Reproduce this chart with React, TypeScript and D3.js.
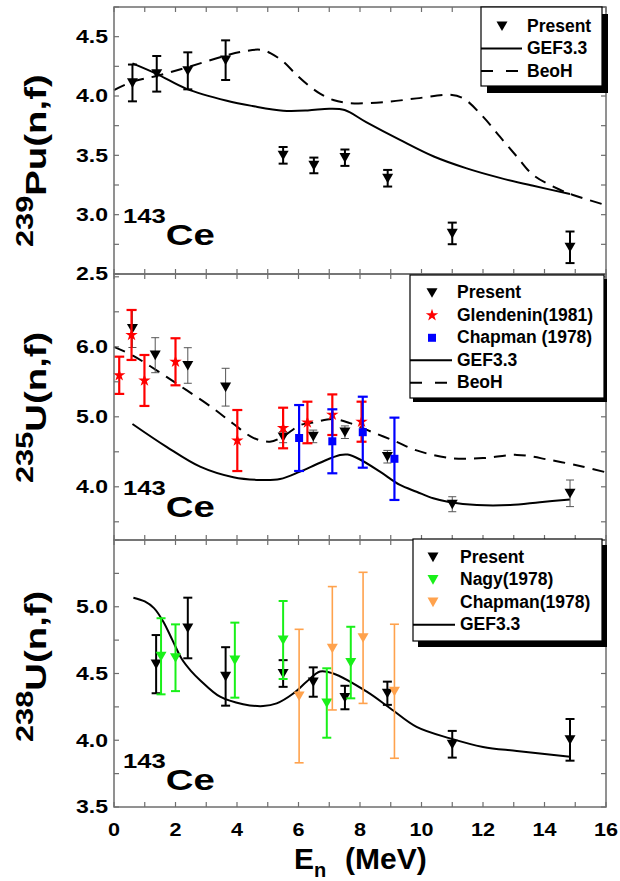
import React from "react";
import * as d3 from "d3";

const WIDTH = 620;
const HEIGHT = 881;
const PLOT_LEFT = 114;
const PLOT_RIGHT = 606;

const energyTicks = [0, 2, 4, 6, 8, 10, 12, 14, 16];

// 239Pu(n,f) -> 143Ce : [E (MeV), yield (%), uncertainty]
const puPresent: [number, number, number][] = [
  [0.6, 4.11, 0.155], [1.39, 4.187, 0.15], [2.4, 4.212, 0.156], [3.63, 4.302, 0.167],
  [5.5, 3.5, 0.07], [6.5, 3.415, 0.066], [7.51, 3.48, 0.069], [8.9, 3.307, 0.07],
  [11.0, 2.842, 0.091], [14.83, 2.725, 0.133],
];
const puGef: [number, number][] = [
  [0.6, 4.275], [1.4, 4.185], [2.36, 4.06], [3.67, 3.96], [4.5, 3.916], [5.5, 3.876],
  [6.3, 3.878], [7.0, 3.893], [7.5, 3.882], [8.2, 3.78], [9.3, 3.63],
  [10.4, 3.49], [11.47, 3.39], [12.55, 3.31], [13.6, 3.245], [14.83, 3.175],
];
const puBeoh: [number, number][] = [
  [0, 4.05], [0.6, 4.12], [1.4, 4.17], [2.36, 4.24], [3.63, 4.34], [4.2, 4.375],
  [4.75, 4.39], [5.1, 4.36], [5.5, 4.29], [5.93, 4.18], [6.37, 4.08], [6.7, 4.02],
  [7.13, 3.966], [7.67, 3.94], [8.75, 3.947], [9.84, 3.98], [10.93, 4.01], [11.36, 3.98],
  [12.0, 3.826], [12.55, 3.657], [13.1, 3.49], [13.63, 3.335], [14.5, 3.21], [14.93, 3.166],
  [16, 3.08],
];

// 235U(n,f) -> 143Ce
const u235Present: [number, number, number][] = [
  [0.6, 6.26, 0.27], [1.34, 5.88, 0.25], [2.4, 5.733, 0.254], [3.63, 5.423, 0.27],
  [5.5, 4.71, 0.08], [6.48, 4.72, 0.09], [7.51, 4.78, 0.09], [8.89, 4.43, 0.09],
  [11.0, 3.751, 0.107], [14.83, 3.907, 0.19],
];
const u235Glendenin: [number, number, number][] = [
  [0.17, 5.593, 0.266], [0.57, 6.169, 0.357], [0.99, 5.519, 0.364], [2.0, 5.786, 0.336],
  [4.01, 4.661, 0.436], [5.5, 4.84, 0.29], [6.29, 4.919, 0.297], [7.1, 5.03, 0.29],
  [8.05, 4.93, 0.286],
];
const u235Chapman: [number, number, number][] = [
  [6.02, 4.697, 0.471], [7.1, 4.65, 0.457], [8.09, 4.78, 0.507], [9.12, 4.4, 0.588],
];
const u235Gef: [number, number][] = [
  [0.6, 4.897], [1.71, 4.57], [2.8, 4.287], [3.88, 4.136], [4.75, 4.097], [5.4, 4.11],
  [6.05, 4.216], [6.7, 4.344], [7.35, 4.454], [7.6, 4.46], [8.0, 4.39], [8.65, 4.216],
  [9.3, 4.026], [9.84, 3.93], [10.38, 3.836], [10.93, 3.78], [11.8, 3.74], [12.88, 3.74],
  [13.85, 3.78], [14.83, 3.82],
];
const u235Beoh: [number, number][] = [
  [0, 6.0], [0.63, 5.87], [1.71, 5.57], [2.36, 5.38], [3.23, 5.12], [3.88, 4.9],
  [4.53, 4.7], [5.07, 4.645], [5.5, 4.72], [6.05, 4.88], [6.5, 4.92], [7.1, 4.97],
  [7.67, 4.91], [8.35, 4.79], [9.15, 4.65], [9.84, 4.52], [10.93, 4.41], [12.0, 4.41],
  [13.1, 4.456], [14.18, 4.383], [15.26, 4.287], [16, 4.207],
];

// 238U(n,f) -> 143Ce
const u238Present: [number, number, number][] = [
  [1.37, 4.57, 0.218], [2.4, 4.841, 0.227], [3.63, 4.478, 0.219], [5.5, 4.5, 0.1],
  [6.48, 4.436, 0.11], [7.51, 4.32, 0.088], [8.89, 4.352, 0.087], [11.0, 3.97, 0.1],
  [14.83, 4.003, 0.156],
];
const u238Nagy: [number, number, number][] = [
  [1.53, 4.629, 0.285], [2.0, 4.618, 0.25], [3.93, 4.6, 0.281], [5.5, 4.751, 0.292],
  [6.92, 4.279, 0.26], [7.7, 4.582, 0.268],
];
const u238Chapman: [number, number, number][] = [
  [6.02, 4.331, 0.5], [7.1, 4.689, 0.462], [8.1, 4.767, 0.491], [9.12, 4.367, 0.502],
];
const u238Gef: [number, number][] = [
  [0.63, 5.068], [1.0, 5.04], [1.3, 4.99], [1.6, 4.89], [1.9, 4.75], [2.2, 4.61],
  [2.5, 4.52], [2.8, 4.45], [3.45, 4.326], [4.2, 4.27], [4.85, 4.256], [5.29, 4.276],
  [5.83, 4.35], [6.27, 4.44], [6.7, 4.515], [7.13, 4.5], [8.22, 4.364], [8.98, 4.24],
  [9.84, 4.1], [10.93, 4.014], [12.0, 3.95], [13.1, 3.92], [14.83, 3.877],
];

const puTicks = [2.5, 3.0, 3.5, 4.0, 4.5];
const u235Ticks = [4.0, 5.0, 6.0];
const u238Ticks = [3.5, 4.0, 4.5, 5.0];

const FRAME = "#6e6e6e";
const FONT = "'Liberation Sans', Arial, sans-serif";
const STRETCH = 1.28;

type Marker = "tri" | "star" | "square";
interface Series {
  data: [number, number, number][];
  color: string;
  barColor: string;
  barWidth: number;
  cap: number;
  marker: Marker;
}
interface LegendRow {
  label: string;
  kind: Marker | "solid" | "dash";
  color: string;
}
interface PanelDef {
  top: number;
  bottom: number;
  domain: [number, number];
  ticks: number[];
  minorStep: number;
  minorStart: number;
  titleMain: string;
  titleSup: string;
  titleStart: number;
  nuclideBase: number;
  gef: [number, number][];
  beoh?: [number, number][];
  series: Series[];
  legend: {
    x: number; y: number; w: number; h: number; sdx: number; sdy: number;
    symX: number; textX: number; line0: number; line1: number; row0: number;
    rows: LegendRow[];
  };
}

function markerPath(kind: Marker): string {
  if (kind === "tri") return "M-5.5,-4.6L5.5,-4.6L0,5Z";
  if (kind === "square") return "M-4,-4H4V4H-4Z";
  return d3.symbol(d3.symbolStar, 48)() as string;
}

function Panel({ p, x }: { p: PanelDef; x: d3.ScaleLinear<number, number> }) {
  const y = d3.scaleLinear().domain(p.domain).range([p.bottom, p.top]);
  const line = d3
    .line<[number, number]>()
    .x((d) => x(d[0]))
    .y((d) => y(d[1]))
    .curve(d3.curveCatmullRom.alpha(0.5));
  const minor = d3.range(p.minorStart, p.domain[1] + 1e-9, p.minorStep);
  const xMinor = d3.range(0, 17, 1);
  const L = p.legend;
  const TL = 5;
  return (
    <g>
      <path d={line(p.gef) || ""} fill="none" stroke="#000" strokeWidth={2} />
      {p.beoh && (
        <path d={line(p.beoh) || ""} fill="none" stroke="#000" strokeWidth={2} strokeDasharray="12,8" />
      )}
      {p.series.map((s, si) => (
        <g key={si}>
          {s.data.map((d, i) => {
            const cx = x(d[0]);
            const y0 = y(d[1] + d[2]);
            const y1 = y(d[1] - d[2]);
            return (
              <g key={i}>
                <line x1={cx} x2={cx} y1={y0} y2={y1} stroke={s.barColor} strokeWidth={s.barWidth} />
                <line x1={cx - s.cap / 2} x2={cx + s.cap / 2} y1={y0} y2={y0} stroke={s.barColor} strokeWidth={s.barWidth} />
                <line x1={cx - s.cap / 2} x2={cx + s.cap / 2} y1={y1} y2={y1} stroke={s.barColor} strokeWidth={s.barWidth} />
                <path d={markerPath(s.marker)} transform={`translate(${cx},${y(d[1])})`} fill={s.color} />
              </g>
            );
          })}
        </g>
      ))}
      {/* frame and inward ticks */}
      <rect x={PLOT_LEFT} y={p.top} width={PLOT_RIGHT - PLOT_LEFT} height={p.bottom - p.top} fill="none" stroke={FRAME} strokeWidth={1.5} />
      {minor.map((v) => (
        <g key={"y" + v} stroke={FRAME} strokeWidth={1.2}>
          <line x1={PLOT_LEFT} x2={PLOT_LEFT + TL} y1={y(v)} y2={y(v)} />
          <line x1={PLOT_RIGHT} x2={PLOT_RIGHT - TL} y1={y(v)} y2={y(v)} />
        </g>
      ))}
      {xMinor.map((v) => (
        <g key={"x" + v} stroke={FRAME} strokeWidth={1.2}>
          <line x1={x(v)} x2={x(v)} y1={p.top} y2={p.top + TL} />
          <line x1={x(v)} x2={x(v)} y1={p.bottom} y2={p.bottom - TL} />
        </g>
      ))}
      {p.ticks.map((v) => (
        <text
          key={"t" + v}
          transform={`translate(108,${y(v)}) scale(${STRETCH},1)`}
          dy="0.36em"
          textAnchor="end"
          fontFamily={FONT}
          fontWeight="bold"
          fontSize={18}
        >
          {d3.format(".1f")(v)}
        </text>
      ))}
      {/* y-axis title */}
      <text
        transform={`translate(46,${p.titleStart}) rotate(-90) scale(${STRETCH},1)`}
        fontFamily={FONT}
        fontWeight="bold"
      >
        <tspan fontSize={24} dy={-13}>{p.titleSup}</tspan>
        <tspan fontSize={30} dy={13}>{p.titleMain}</tspan>
      </text>
      {/* nuclide label */}
      <text transform={`translate(123,${p.nuclideBase}) scale(${STRETCH},1)`} fontFamily={FONT} fontWeight="bold">
        <tspan fontSize={20} dy={-22}>143</tspan>
        <tspan fontSize={30} dy={22}>Ce</tspan>
      </text>
      {/* legend */}
      <rect x={L.x + L.sdx} y={L.y + L.sdy} width={L.w} height={L.h} fill="#000" />
      <rect x={L.x} y={L.y} width={L.w} height={L.h} fill="#fff" stroke="#000" strokeWidth={1.2} />
      {L.rows.map((r, i) => {
        const base = L.row0 + i * 22.5;
        const cy = base - 5.5;
        return (
          <g key={r.label}>
            {r.kind === "solid" && <line x1={L.line0} x2={L.line1} y1={cy} y2={cy} stroke="#000" strokeWidth={2} />}
            {r.kind === "dash" && (
              <line x1={L.line0} x2={L.line1} y1={cy} y2={cy} stroke="#000" strokeWidth={2} strokeDasharray="12,13" />
            )}
            {(r.kind === "tri" || r.kind === "star" || r.kind === "square") && (
              <path d={markerPath(r.kind)} transform={`translate(${L.symX},${cy})`} fill={r.color} />
            )}
            <text x={L.textX} y={base} fontFamily={FONT} fontWeight="bold" fontSize={17.5}>
              {r.label}
            </text>
          </g>
        );
      })}
    </g>
  );
}

export default function App() {
  const x = d3.scaleLinear().domain([0, 16]).range([PLOT_LEFT, PLOT_RIGHT]);

  const black: Omit<Series, "data"> = { color: "#000", barColor: "#000", barWidth: 2, cap: 9, marker: "tri" };

  const panels: PanelDef[] = [
    {
      top: 7, bottom: 274, domain: [2.5, 4.75], ticks: puTicks, minorStep: 0.25, minorStart: 2.5,
      titleSup: "239", titleMain: "Pu(n,f)", titleStart: 247, nuclideBase: 245,
      gef: puGef, beoh: puBeoh,
      series: [{ ...black, data: puPresent }],
      legend: {
        x: 481, y: 7, w: 121, h: 79, sdx: 6, sdy: 7, symX: 502, textX: 527, line0: 481, line1: 522, row0: 31.5,
        rows: [
          { label: "Present", kind: "tri", color: "#000" },
          { label: "GEF3.3", kind: "solid", color: "#000" },
          { label: "BeoH", kind: "dash", color: "#000" },
        ],
      },
    },
    {
      top: 274, bottom: 540, domain: [3.24, 7.04], ticks: u235Ticks, minorStep: 0.5, minorStart: 3.5,
      titleSup: "235", titleMain: "U(n,f)", titleStart: 483, nuclideBase: 517,
      gef: u235Gef, beoh: u235Beoh,
      series: [
        { ...black, data: u235Present, barColor: "#555", barWidth: 1, cap: 8 },
        { data: u235Glendenin, color: "#ff0000", barColor: "#ff0000", barWidth: 2.2, cap: 10, marker: "star" },
        { data: u235Chapman, color: "#0000ff", barColor: "#0000ff", barWidth: 2.2, cap: 10, marker: "square" },
      ],
      legend: {
        x: 410, y: 275, w: 194, h: 123, sdx: 3, sdy: 4, symX: 432, textX: 457, line0: 410, line1: 452, row0: 298.3,
        rows: [
          { label: "Present", kind: "tri", color: "#000" },
          { label: "Glendenin(1981)", kind: "star", color: "#ff0000" },
          { label: "Chapman (1978)", kind: "square", color: "#0000ff" },
          { label: "GEF3.3", kind: "solid", color: "#000" },
          { label: "BeoH", kind: "dash", color: "#000" },
        ],
      },
    },
    {
      top: 540, bottom: 807, domain: [3.5, 5.5], ticks: u238Ticks, minorStep: 0.25, minorStart: 3.5,
      titleSup: "238", titleMain: "U(n,f)", titleStart: 742, nuclideBase: 790,
      gef: u238Gef,
      series: [
        { ...black, data: u238Present },
        { data: u238Nagy, color: "#19f019", barColor: "#19f019", barWidth: 2, cap: 9, marker: "tri" },
        { data: u238Chapman, color: "#ffa24d", barColor: "#ffa24d", barWidth: 1.6, cap: 9, marker: "tri" },
      ],
      legend: {
        x: 413, y: 539, w: 189, h: 102, sdx: 5, sdy: 6, symX: 433, textX: 460, line0: 413, line1: 455, row0: 562.7,
        rows: [
          { label: "Present", kind: "tri", color: "#000" },
          { label: "Nagy(1978)", kind: "tri", color: "#19f019" },
          { label: "Chapman(1978)", kind: "tri", color: "#ffa24d" },
          { label: "GEF3.3", kind: "solid", color: "#000" },
        ],
      },
    },
  ];

  return (
    <svg width={WIDTH} height={HEIGHT} style={{ display: "block", position: "absolute", left: 0, top: 0, background: "#fff" }}>
      <rect width={WIDTH} height={HEIGHT} fill="#fff" />
      {panels.map((p, i) => (
        <Panel key={i} p={p} x={x} />
      ))}
      {energyTicks.map((v) => (
        <text
          key={v}
          transform={`translate(${x(v)},836) scale(1.2,1)`}
          textAnchor="middle"
          fontFamily={FONT}
          fontWeight="bold"
          fontSize={18}
        >
          {v}
        </text>
      ))}
      <text y={869} fontFamily={FONT} fontWeight="bold" fontSize={30}>
        <tspan x={294}>E</tspan>
        <tspan fontSize={20} dy={8}>n</tspan>
        <tspan x={345} dy={-8}>(MeV)</tspan>
      </text>
    </svg>
  );
}
